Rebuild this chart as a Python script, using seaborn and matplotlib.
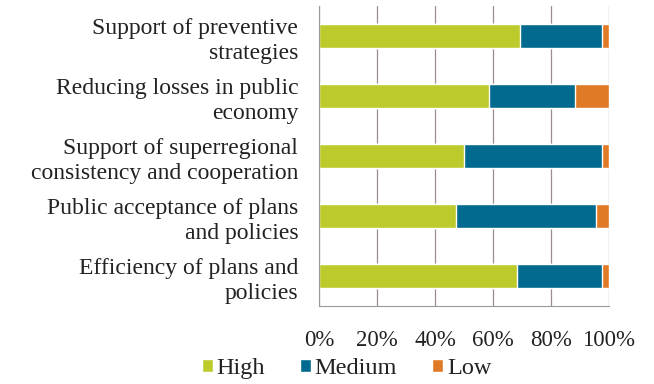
import pandas as pd
import seaborn as sns
import matplotlib.pyplot as plt
from matplotlib.patches import Patch

categories = [
    "Support of preventive\nstrategies",
    "Reducing losses in public\neconomy",
    "Support of superregional\nconsistency and cooperation",
    "Public acceptance of plans\nand policies",
    "Efficiency of plans and\npolicies",
]
high = [69.3, 58.7, 50.0, 47.4, 68.2]
medium = [28.2, 29.6, 47.5, 48.0, 29.3]
low = [2.5, 11.7, 2.5, 4.6, 2.5]
xticks = [0, 20, 40, 60, 80, 100]

colors = {"High": "#bccb2b", "Medium": "#036a8f", "Low": "#e07a26"}

df = pd.DataFrame({"category": categories, "High": high, "Medium": medium, "Low": low})
df["hm"] = df["High"] + df["Medium"]
df["total"] = df["hm"] + df["Low"]

sns.set_style("white")
plt.rcParams["font.family"] = ["Liberation Serif", "DejaVu Serif"]

fig = plt.figure(figsize=(6.54, 3.84), dpi=100)
ax = fig.add_axes([0.4878, 0.203, 0.4434, 0.781])

sns.barplot(data=df, y="category", x="total", color=colors["Low"], width=0.4, saturation=1, ax=ax, orient="h")
sns.barplot(data=df, y="category", x="hm", color=colors["Medium"], width=0.4, saturation=1, ax=ax, orient="h")
sns.barplot(data=df, y="category", x="High", color=colors["High"], width=0.4, saturation=1, ax=ax, orient="h")

ax.set_xlim(0, 100)
ax.set_ylim(4.5, -0.5)
ax.set_xticks(xticks)
ax.set_xticklabels([f"{t}%" for t in xticks], fontsize=16.5, color="#222222")
ax.set_yticks(range(len(categories)))
ax.set_yticklabels(categories, fontsize=17, color="#222222", linespacing=1.28)
ax.set_yticks([i - 0.5 for i in range(len(categories) + 1)], minor=True)
ax.tick_params(axis="y", which="major", length=0, pad=15)
ax.tick_params(axis="y", which="minor", length=4, color="#999999", width=0.8)
ax.tick_params(axis="x", length=4, color="#999999", width=0.8, pad=13)
ax.set_xlabel("")
ax.set_ylabel("")
ax.xaxis.grid(True, color="#9c8c8c", linewidth=0.9)
ax.set_axisbelow(True)
for s in ["top", "right"]:
    ax.spines[s].set_visible(False)
for s in ["left", "bottom"]:
    ax.spines[s].set_color("#999999")
    ax.spines[s].set_linewidth(0.8)

handles = [Patch(facecolor=colors[k], label=k) for k in ["High", "Medium", "Low"]]
fig.legend(handles=handles, loc="center", bbox_to_anchor=(0.53, 0.04), ncol=3, frameon=False,
           fontsize=17.5, handlelength=0.45, handleheight=0.45, handletextpad=0.15, columnspacing=1.45,
           labelcolor="#222222")

fig.savefig("out.png", dpi=100)
